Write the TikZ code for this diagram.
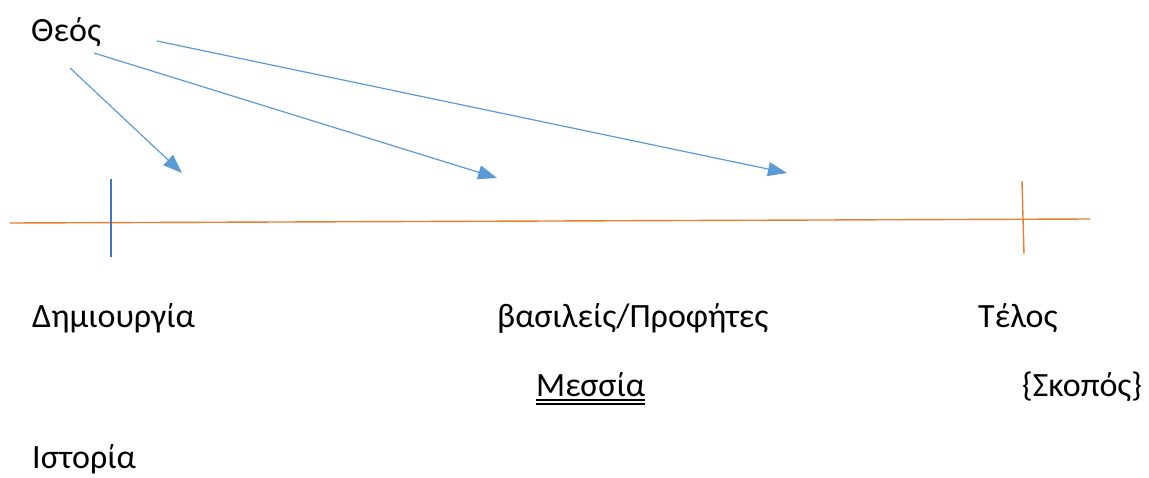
\documentclass[tikz,border=0pt]{standalone}
\usepackage{fontspec}
\setmainfont{Carlito}
\usepackage{xcolor}
\usetikzlibrary{arrows.meta}
\definecolor{arrowblue}{HTML}{5B9BD5}
\definecolor{tickblue}{HTML}{4472C4}
\definecolor{lineorange}{HTML}{ED7D31}
\tikzset{
  lbl/.style={anchor=base west, inner sep=0pt, font=\fontsize{34}{40}\selectfont},
  godarrow/.style={arrowblue, line width=1.2pt, -{Triangle[length=19pt,width=14pt]}}
}

\begin{document}
\begin{tikzpicture}[x=1pt,y=-1pt]
\useasboundingbox (0,0) rectangle (1149,477);

% labels
\node[lbl] (theos) at (31,41) {Θεός};
\node[lbl] (dimiourgia) at (32,327) {Δημιουργία};
\node[lbl] (profites) at (497,327) {βασιλείς/Προφήτες};
\node[lbl] (telos) at (978,327) {Τέλος};
\node[lbl] (messia) at (536,396) {Μεσσία};
\node[lbl] (skopos) at (1022,396) {\{Σκοπός\}};
\node[lbl] (istoria) at (32,468) {Ιστορία};
\draw[line width=1.3pt] ([yshift=-4pt]messia.base west) -- ([yshift=-4pt]messia.base east);
\draw[line width=1.3pt] ([yshift=-8pt]messia.base west) -- ([yshift=-8pt]messia.base east);

% time line
\coordinate (start) at (10,223);
\coordinate (end) at (1090,219);
\draw[lineorange, line width=1.4pt] (start) -- (end);
\draw[tickblue, line width=1.6pt] (111,179) coordinate (c1) -- (111,257) coordinate (c2);
\draw[lineorange, line width=1.4pt] (1022,181) coordinate (e1) -- (1024,254) coordinate (e2);

% arrows from God
\coordinate (a1) at (70,68);
\coordinate (a2) at (94,53);
\coordinate (a3) at (157,41);
\coordinate (t1) at (182,173);
\coordinate (t2) at (497,178);
\coordinate (t3) at (787,173);
\draw[godarrow] (a1) -- (t1);
\draw[godarrow] (a2) -- (t2);
\draw[godarrow] (a3) -- (t3);
\end{tikzpicture}
\end{document}
